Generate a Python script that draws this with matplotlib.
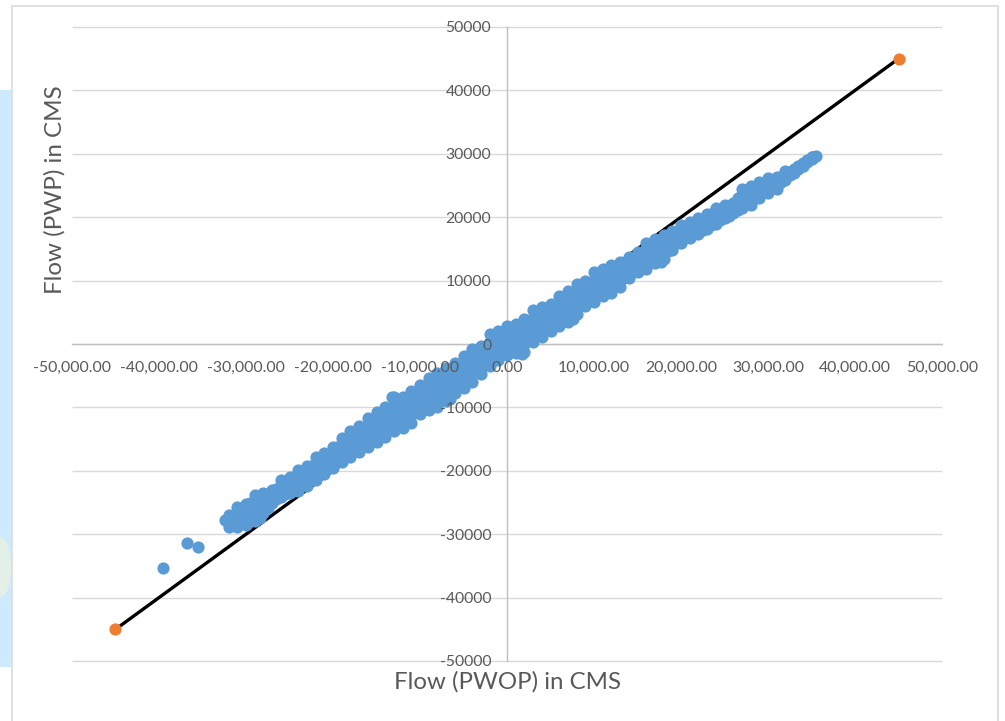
import matplotlib
matplotlib.use("Agg")
import matplotlib.pyplot as plt
from matplotlib.patches import Rectangle, Ellipse

plt.rcParams['font.family'] = ['Lato', 'DejaVu Sans']

# flow without the project, in CMS (one row of the band per value)
pwop_rows = [-32000, -31000, -30000, -29000, -28000, -27000, -26000, -25000, -24000, -23000,
             -22000, -21000, -20000, -19000, -18000, -17000, -16000, -15000, -14000, -13000,
             -12000, -11000, -10000, -9000, -8000, -7000, -6000, -5000, -4000, -3000,
             -2000, -1000, 0, 1000, 2000, 3000, 4000, 5000, 6000, 7000,
             8000, 9000, 10000, 11000, 12000, 13000, 14000, 15000, 16000, 17000,
             18000, 19000, 20000, 21000, 22000, 23000, 24000, 25000, 26000, 27000,
             28000, 29000, 30000, 31000, 32000, 33000, 34000, 35000]

pwp_upper = [-27000, -25700, -25200, -23800, -23500, -23000, -21500, -21000, -19800, -19300,
             -17800, -17200, -16200, -14900, -13700, -13000, -11600, -10800, -10000, -8300,
             -8300, -7400, -6400, -5300, -4500, -3800, -3000, -1900, -800, -300,
             1500, 2000, 2800, 3100, 3900, 5300, 5800, 6300, 7500, 8300,
             9400, 10000, 11300, 11800, 12500, 13000, 13700, 14500, 16000, 16600,
             17200, 17900, 18800, 19200, 19800, 20500, 21500, 21900, 22300, 24400,
             25000, 25600, 26200, 26300, 27300, 27600, 28500, 29500]

pwp_upper2 = [-27450, -26500, -26050, -24850, -24300, -23500, -22200, -21650, -20650, -20100,
              -18700, -18050, -17050, -15850, -14750, -14000, -12800, -12000, -11150, -9650,
              -9500, -8700, -7550, -6600, -5850, -5100, -4150, -3150, -2100, -1400,
              250, 850, 1650, 1950, 2600, 4050, 4650, 5250, 6350, 7100,
              8250, 9000, 10150, 10750, 11400, 12000, 12850, 13700, 15000, 15600,
              16250, 17100, 18100, 18550, 19200, 19900, 20850, 21350, 21850, 23650,
              24250, 24950, 25600, 25850, 26950, 27450, 28350, 29450]

pwp_mid = [-27900, -27300, -26900, -25900, -25100, -24000, -22900, -22300, -21500, -20900,
           -19600, -18900, -17900, -16800, -15800, -15000, -14000, -13200, -12300, -11000,
           -10700, -10000, -8700, -7900, -7200, -6400, -5300, -4400, -3400, -2500,
           -1000, -300, 500, 800, 1300, 2800, 3500, 4200, 5200, 5900,
           7100, 8000, 9000, 9700, 10300, 11000, 12000, 12900, 14000, 14600,
           15300, 16300, 17400, 17900, 18600, 19300, 20200, 20800, 21400, 22900,
           23500, 24300, 25000, 25400, 26600, 27300, 28200, 29400]

pwp_lower2 = [-28400, -28050, -27750, -26900, -25900, -24500, -23550, -22900, -22350, -21650,
              -20500, -19700, -18750, -17700, -16850, -16050, -15150, -14350, -13450, -12400,
              -11950, -11250, -9850, -9150, -8550, -7700, -6500, -5650, -4700, -3600,
              -2250, -1450, -650, -300, 0, 1550, 2300, 3100, 4000, 4700,
              5950, 7000, 7800, 8650, 9200, 10000, 11200, 12100, 12950, 13650,
              14350, 15550, 16700, 17300, 18000, 18700, 19550, 20300, 21000, 22150,
              22750, 23700, 24400, 24950, 26250, 27150, 28100, 29300]

pwp_lower = [-28900, -28800, -28600, -27900, -26700, -25000, -24200, -23500, -23200, -22400,
             -21400, -20500, -19600, -18600, -17900, -17100, -16300, -15500, -14600, -13800,
             -13200, -12500, -11000, -10400, -9900, -9000, -7700, -6900, -6000, -4700,
             -3500, -2600, -1800, -1400, -1300, 300, 1100, 2000, 2800, 3500,
             4800, 6000, 6600, 7600, 8100, 9000, 10400, 11300, 11900, 12700,
             13400, 14800, 16000, 16700, 17400, 18100, 18900, 19800, 20600, 21400,
             22000, 23100, 23800, 24500, 25900, 27000, 28000, 29200]

# second set of rows, between the ones above
pwop_half = [-31500, -30500, -29500, -28500, -27500, -26500, -25500, -24500, -23500, -22500,
             -21500, -20500, -19500, -18500, -17500, -16500, -15500, -14500, -13500, -12500,
             -11500, -10500, -9500, -8500, -7500, -6500, -5500, -4500, -3500, -2500,
             -1500, -500, 500, 1500, 2500, 3500, 4500, 5500, 6500, 7500,
             8500, 9500, 10500, 11500, 12500, 13500, 14500, 15500, 16500, 17500,
             18500, 19500, 20500, 21500, 22500, 23500, 24500, 25500, 26500, 27500,
             28500, 29500, 30500, 31500, 32500, 33500, 34500]

pwp_half_hi = [-27000, -26200, -25000, -24600, -24000, -22800, -21800, -21200, -20200, -19300,
               -18300, -17500, -16300, -15200, -14400, -13300, -12300, -11500, -10400, -9500,
               -9000, -8200, -7100, -6200, -5500, -4700, -3700, -2600, -1700, -800,
               300, 1100, 1700, 2300, 3300, 4400, 5000, 5700, 6800, 7700,
               8500, 9500, 10400, 10900, 11600, 12400, 13200, 14300, 15300, 16000,
               16600, 17500, 18300, 18900, 19600, 20500, 21000, 21600, 23000, 24000,
               24600, 25300, 25800, 26400, 27200, 28000, 29000]

pwp_half_mid = [-27750, -27100, -26200, -25650, -24950, -23650, -22700, -22100, -21250, -20350,
                -19400, -18500, -17350, -16400, -15600, -14600, -13700, -12850, -11850, -10950,
                -10400, -9450, -8450, -7700, -7000, -6100, -5100, -4050, -3000, -2050,
                -950, -50, 600, 1100, 2000, 3000, 3800, 4500, 5500, 6500,
                7400, 8300, 9250, 9800, 10500, 11400, 12250, 13250, 14150, 14950,
                15650, 16700, 17500, 18100, 18800, 19650, 20250, 20900, 22050, 23050,
                23800, 24600, 25250, 26000, 26950, 27800, 28850]

pwp_half_lo = [-28500, -28000, -27400, -26700, -25900, -24500, -23600, -23000, -22300, -21400,
               -20500, -19500, -18400, -17600, -16800, -15900, -15100, -14200, -13300, -12400,
               -11800, -10700, -9800, -9200, -8500, -7500, -6500, -5500, -4300, -3300,
               -2200, -1200, -500, -100, 700, 1600, 2600, 3300, 4200, 5300,
               6300, 7100, 8100, 8700, 9400, 10400, 11300, 12200, 13000, 13900,
               14700, 15900, 16700, 17300, 18000, 18800, 19500, 20200, 21100, 22100,
               23000, 23900, 24700, 25600, 26700, 27600, 28700]

# points sticking out of the band
stray_pwop = [-39500, -36800, -35500, -32400, -28400, -13200, -6500, 1700, 7600, 10000, 17700, 35500]
stray_pwp = [-35300, -31400, -32000, -27800, -27400, -8400, -8700, -1600, 3900, 7900, 13000, 29650]

line_pwop = [-45000, 45000]
line_pwp = [-45000, 45000]

x_ticks = [-50000, -40000, -30000, -20000, -10000, 0, 10000, 20000, 30000, 40000, 50000]
x_labels = ['-50,000.00', '-40,000.00', '-30,000.00', '-20,000.00', '-10,000.00', '0.00',
            '10,000.00', '20,000.00', '30,000.00', '40,000.00', '50,000.00']
y_ticks = [-50000, -40000, -30000, -20000, -10000, 0, 10000, 20000, 30000, 40000, 50000]
y_labels = ['-50000', '-40000', '-30000', '-20000', '-10000', '0',
            '10000', '20000', '30000', '40000', '50000']

W, H = 1005, 721
fig = plt.figure(figsize=(W / 100, H / 100), dpi=100, facecolor='white')


def fx(px):
    return px / W


def fy(py):
    return 1 - py / H


# bits of the page behind the chart
fig.patches.append(Rectangle((0, fy(667)), fx(11), fy(90) - fy(667), transform=fig.transFigure,
                             facecolor='#cdeaff', edgecolor='none', zorder=-3))
fig.patches.append(Ellipse((fx(1), fy(567)), fx(20), 60 / H, transform=fig.transFigure,
                           facecolor='#e8f2e2', edgecolor='none', alpha=0.8, zorder=-2))
fig.patches.append(Rectangle((fx(11.5), fy(730)), fx(986.5), fy(5.5) - fy(730), transform=fig.transFigure,
                             facecolor='white', edgecolor='#dddddd', linewidth=1.3, zorder=-1))

ax = fig.add_axes([fx(72), fy(661), fx(942 - 72), fy(27) - fy(661)])
ax.patch.set_alpha(0)
ax.set_xlim(-50000, 50000)
ax.set_ylim(-50000, 50000)

ax.hlines(y_ticks, -50000, 50000, color='#d9d9d9', linewidth=1.0, zorder=0.2, clip_on=False)

ax.plot(line_pwop, line_pwp, color='black', linewidth=2.4, zorder=1, solid_capstyle='round')
for xs, vals in [(pwop_rows, pwp_upper), (pwop_rows, pwp_upper2), (pwop_rows, pwp_mid),
                 (pwop_rows, pwp_lower2), (pwop_rows, pwp_lower),
                 (pwop_half, pwp_half_hi), (pwop_half, pwp_half_mid), (pwop_half, pwp_half_lo),
                 (stray_pwop, stray_pwp)]:
    ax.plot(xs, vals, linestyle='none', marker='o', markersize=8.8,
            color='#5b9bd5', markeredgewidth=0, zorder=2)
ax.plot(line_pwop, line_pwp, linestyle='none', marker='o', markersize=8.8,
        color='#ed7d31', markeredgewidth=0, zorder=3)

for name in ['top', 'right']:
    ax.spines[name].set_visible(False)
for name in ['left', 'bottom']:
    ax.spines[name].set_position('zero')
    ax.spines[name].set_color('#bfbfbf')
    ax.spines[name].set_linewidth(1.0)
    ax.spines[name].set_zorder(0.5)

ax.set_xticks(x_ticks)
ax.set_xticklabels(x_labels)
ax.set_yticks(y_ticks)
ax.set_yticklabels(y_labels)
ax.tick_params(axis='x', length=0, pad=12.5, labelsize=11.4, labelcolor='#595959')
ax.tick_params(axis='y', length=0, pad=11.4, labelsize=11.3, labelcolor='#595959')
ax.xaxis.set_zorder(6)
ax.yaxis.set_zorder(6)

fig.text(fx(507), fy(682), 'Flow (PWOP) in CMS', ha='center', va='center', fontsize=17.3, color='#595959')
fig.text(fx(55), fy(190), 'Flow (PWP) in CMS', ha='center', va='center', rotation=90, fontsize=17.4, color='#595959')

fig.savefig('out.png', dpi=100)
